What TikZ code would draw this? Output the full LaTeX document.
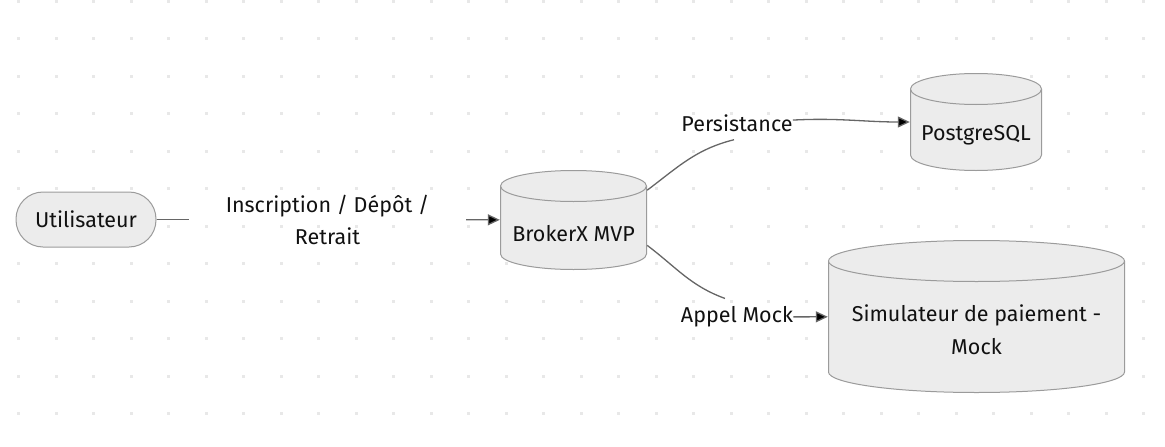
\documentclass[tikz,border=0pt]{standalone}
\usepackage{fontspec}
\setmainfont{Fira Sans}
\usepackage{tikz}
\usetikzlibrary{arrows.meta,positioning}
\definecolor{nodefill}{HTML}{ECECEC}
\definecolor{nodeline}{HTML}{9B9B9B}
\definecolor{edgeline}{HTML}{666666}
\definecolor{dotgray}{HTML}{E8E8E8}
\definecolor{txt}{HTML}{111111}
\newcommand{\bas}[1]{\raisebox{-13.5pt}[\height][\depth]{#1}}
\tikzset{
  base/.style n args={3}{minimum width=#1, minimum height=#2, inner sep=0pt, align=center,
    path picture={
      \draw[nodeline, fill=nodefill, line width=1pt]
        ([xshift=0.5pt, yshift=-#3]path picture bounding box.north west)
        -- ([xshift=0.5pt, yshift=#3]path picture bounding box.south west)
        arc [start angle=180, end angle=360, x radius=#1/2-0.5pt, y radius=#3-0.5pt]
        -- ([xshift=-0.5pt, yshift=-#3]path picture bounding box.north east);
      \draw[nodeline, fill=nodefill, line width=1pt]
        ([yshift=-#3]path picture bounding box.north) ellipse [x radius=#1/2-0.5pt, y radius=#3-0.5pt];
    }}
}

\begin{document}
\begin{tikzpicture}[x=1pt, y=-1pt, >={Triangle[length=12pt,width=11pt]}, font=\fontsize{21.5}{32}\selectfont, text=txt]

\tikzstyle{acteur}=[draw=nodeline, fill=nodefill, rounded corners=27pt, minimum width=140pt, minimum height=55pt, line width=1pt]
\tikzstyle{lien}=[draw=edgeline, line width=1.3pt]
\tikzstyle{etiq}=[inner xsep=0pt, inner ysep=8pt, align=center]

\useasboundingbox (0,0) rectangle (1165,447);
\foreach \i in {0,...,30}
  \foreach \j in {0,...,11}
    \fill[dotgray] (17.2+37.5*\i, -0.5+37.5*\j) rectangle ++(3,3);

\node [acteur] (u) at (86,219.5) {Utilisateur};
\node [base={147pt}{100pt}{16pt}] (b) at (573.5,220) {\bas{BrokerX MVP}};
\node [base={132pt}{98pt}{16pt}] (pg) at (976,122) {\bas{PostgreSQL}};
\node [base={297pt}{153pt}{21pt}, font=\fontsize{21.5}{33}\selectfont] (sim) at (976.5,316.5) {\bas{Simulateur de paiement -}\\\bas{Mock}};

\node [etiq, inner sep=0pt, minimum width=277pt] (l1) at (327.5,219.5) {Inscription / Dépôt /\\Retrait};
\node [etiq] (l2) at (737,123) {Persistance};
\node [etiq] (l3) at (737,317) {Appel Mock};

\path [lien]
(u) edge (l1)
(l1) edge [->] (b)
(b.22) edge [out=37, in=194] ([xshift=-3pt]l2.south)
(l2) edge [->, out=3, in=180] (pg)
(b.-19) edge [out=-37, in=160] ([xshift=-12pt]l3.north)
(l3) edge [->] (sim);
\end{tikzpicture}
\end{document}
